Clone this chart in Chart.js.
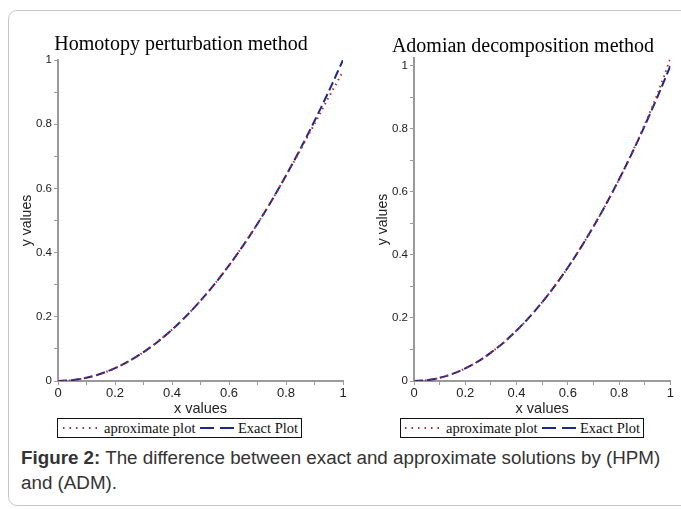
<!DOCTYPE html>
<html>
<head>
<meta charset="utf-8">
<script src="https://cdn.jsdelivr.net/npm/chart.js@4.4.1/dist/chart.umd.min.js"></script>
<style>
  html, body { margin:0; padding:0; background:#fff; width:681px; height:509px; overflow:hidden; position:relative; }
  #frame { position:absolute; left:8px; top:10px; width:700px; height:494px; border:1px solid #c8c8c8; border-radius:9px; }
  canvas { position:absolute; }
  .legend { position:absolute; height:18px; border:1.5px solid #111; background:#fff; font-family:"Liberation Serif", serif; font-size:14.5px; color:#111; white-space:nowrap; }
  .legend span, .legend svg { position:absolute; top:0; }
  .legend span { line-height:18px; }
  #caption { position:absolute; left:21px; top:445px; font-family:"Liberation Sans", Arial, sans-serif; font-size:18.8px; line-height:25px; color:#333; white-space:nowrap; }
</style>
</head>
<body>
<div id="frame"></div>
<canvas id="c1" width="337" height="383" style="left:19px; top:35px;"></canvas>
<canvas id="c2" width="300" height="381" style="left:375px; top:37px;"></canvas>

<div class="legend" style="left:57px; top:418px; width:243px;">
  <svg width="40" height="18" style="left:4px;"><line x1="1" y1="9" x2="38" y2="9" stroke="#b5282e" stroke-width="2" stroke-dasharray="1.5 5" /></svg>
  <span style="left:46px;">aproximate plot</span>
  <svg width="40" height="18" style="left:142px;"><line x1="0" y1="9" x2="37" y2="9" stroke="#1c2a87" stroke-width="2" stroke-dasharray="14 6" /></svg>
  <span style="left:180px;">Exact Plot</span>
</div>
<div class="legend" style="left:400px; top:418px; width:242px;">
  <svg width="40" height="18" style="left:3px;"><line x1="1" y1="9" x2="36" y2="9" stroke="#b5282e" stroke-width="2" stroke-dasharray="1.5 5" /></svg>
  <span style="left:45px;">aproximate plot</span>
  <svg width="40" height="18" style="left:141px;"><line x1="0" y1="9" x2="37" y2="9" stroke="#1c2a87" stroke-width="2" stroke-dasharray="14 6" /></svg>
  <span style="left:179px;">Exact Plot</span>
</div>

<div id="caption"><b>Figure 2:</b> The difference between exact and approximate solutions by (HPM)<br>and (ADM).</div>

<script>
// ---- data ----
const xValues   = [0, 0.05, 0.1, 0.15, 0.2, 0.25, 0.3, 0.35, 0.4, 0.45, 0.5, 0.55, 0.6, 0.65, 0.7, 0.75, 0.8, 0.85, 0.9, 0.95, 1];
const exactVals = [0, 0.0025, 0.01, 0.0225, 0.04, 0.0625, 0.09, 0.1225, 0.16, 0.2025, 0.25, 0.3025, 0.36, 0.4225, 0.49, 0.5625, 0.64, 0.7225, 0.81, 0.9025, 1.0];
const hpmApprox = [0, 0.0025, 0.01, 0.0225, 0.04, 0.0625, 0.09, 0.1225, 0.16, 0.2025, 0.25, 0.3025, 0.36, 0.4225, 0.49, 0.5625, 0.64, 0.719, 0.801, 0.884, 0.964];
const admApprox = [0, 0.0025, 0.01, 0.0225, 0.04, 0.0625, 0.09, 0.1225, 0.16, 0.2025, 0.25, 0.3025, 0.36, 0.4225, 0.49, 0.5625, 0.64, 0.7235, 0.814, 0.912, 1.023];
const xTickLabels = ['0', '0.2', '0.4', '0.6', '0.8', '1'];
const yTickLabels = ['0', '0.2', '0.4', '0.6', '0.8', '1'];
const titles = ['Homotopy perturbation method', 'Adomian decomposition method'];

const pts = arr => xValues.map((x, i) => ({ x: x, y: arr[i] }));
const lbl = (list) => (v) => {
  const r = Math.round(v * 10);
  if (r % 2 !== 0) return '';
  const s = r === 0 ? '0' : (r === 10 ? '1' : (r / 10).toFixed(1));
  return list.includes(s) ? s : '';
};

function makeChart(id, title, approx, yMax, yWidth, yTitlePad, padRight, titlePadBottom) {
  const axisCol = '#9a9a9a';
  new Chart(document.getElementById(id), {
    type: 'line',
    data: {
      datasets: [
        { label: 'aproximate plot', data: pts(approx), borderColor: '#b5282e', borderWidth: 2,
          borderDash: [1.5, 4], pointRadius: 0, cubicInterpolationMode: 'monotone', fill: false },
        { label: 'Exact Plot', data: pts(exactVals), borderColor: '#1c2a87', borderWidth: 2,
          borderDash: [9, 4], pointRadius: 0, cubicInterpolationMode: 'monotone', fill: false }
      ]
    },
    options: {
      responsive: false, animation: false, devicePixelRatio: 1,
      layout: { padding: { left: 0, right: padRight, top: 0, bottom: 0 } },
      plugins: {
        legend: { display: false }, tooltip: { enabled: false },
        title: { display: true, text: title, color: '#000',
          font: { family: 'Liberation Serif', size: 20, weight: 'normal', lineHeight: 1 },
          padding: { top: 0, bottom: titlePadBottom } }
      },
      scales: {
        x: {
          type: 'linear', min: 0, max: 1,
          ticks: { stepSize: 0.1, autoSkip: false, maxRotation: 0, includeBounds: false, callback: lbl(xTickLabels),
            color: '#222', font: { family: 'Liberation Sans', size: 13 }, padding: 1 },
          grid: { drawOnChartArea: false, drawTicks: true, tickLength: 4, color: axisCol, lineWidth: 1 },
          border: { color: axisCol, width: 2 },
          title: { display: true, text: 'x values', color: '#222',
            font: { family: 'Liberation Sans', size: 14.5 }, padding: 0 },
          afterFit: s => { s.height = 37; }
        },
        y: {
          type: 'linear', min: 0, max: yMax,
          ticks: { stepSize: 0.1, autoSkip: false, includeBounds: false, callback: lbl(yTickLabels),
            color: '#222', font: { family: 'Liberation Sans', size: 11.5 }, padding: 2 },
          grid: { drawOnChartArea: false, drawTicks: true, tickLength: 4, color: axisCol, lineWidth: 1 },
          border: { color: axisCol, width: 2 },
          title: { display: true, text: 'y values', color: '#222',
            font: { family: 'Liberation Sans', size: 14 }, padding: { top: yTitlePad, bottom: 0 } },
          afterFit: s => { s.width = yWidth; }
        }
      }
    }
  });
}

makeChart('c1', titles[0], hpmApprox, 1, 39, 0, 13, 5);
makeChart('c2', titles[1], admApprox, 1.025, 39, 0, 4, 1);
</script>
</body>
</html>
